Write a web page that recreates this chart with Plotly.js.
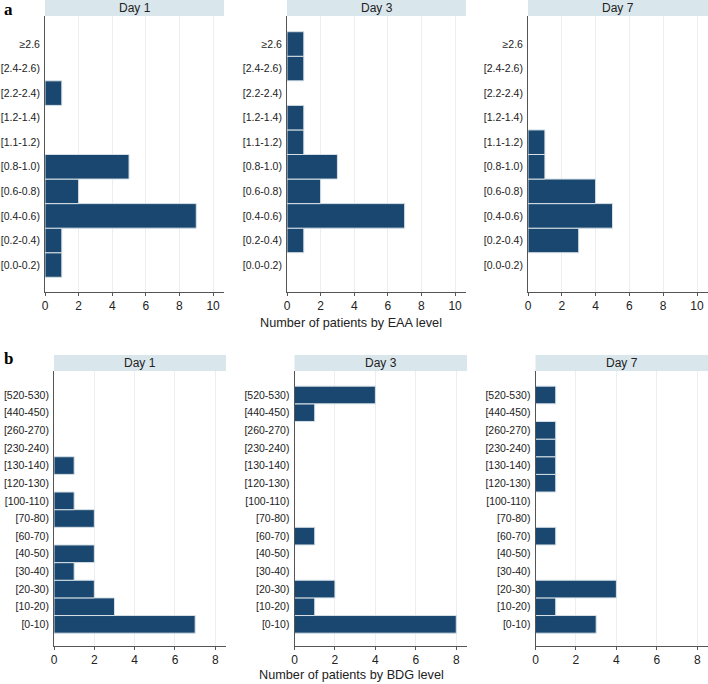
<!DOCTYPE html>
<html>
<head>
<meta charset="utf-8">
<script src="https://cdn.plot.ly/plotly-3.0.1.min.js"></script>
<style>
  body { margin: 0; background: #fff; }
  #chart { width: 708px; height: 684px; }
</style>
</head>
<body>
<div id="chart"></div>
<script>
// EAA categories, bottom to top
const eaaLevels = ['[0.0-0.2)', '[0.2-0.4)', '[0.4-0.6)', '[0.6-0.8)', '[0.8-1.0)',
  '[1.1-1.2)', '[1.2-1.4)', '[2.2-2.4)', '[2.4-2.6)', '≥2.6'];
const eaaDay1 = [1, 1, 9, 2, 5, 0, 0, 1, 0, 0];
const eaaDay3 = [0, 1, 7, 2, 3, 1, 1, 0, 1, 1];
const eaaDay7 = [0, 3, 5, 4, 1, 1, 0, 0, 0, 0];

// BDG categories, bottom to top
const bdgLevels = ['[0-10)', '[10-20)', '[20-30)', '[30-40)', '[40-50)', '[60-70)', '[70-80)',
  '[100-110)', '[120-130)', '[130-140)', '[230-240)', '[260-270)', '[440-450)', '[520-530)'];
const bdgDay1 = [7, 3, 2, 1, 2, 0, 2, 1, 0, 1, 0, 0, 0, 0];
const bdgDay3 = [8, 1, 2, 0, 0, 1, 0, 0, 0, 0, 0, 0, 1, 4];
const bdgDay7 = [3, 1, 4, 0, 0, 1, 0, 0, 1, 1, 1, 1, 0, 1];

const dayNames = ['Day 1', 'Day 3', 'Day 7'];

const W = 708, H = 684;
const navy = '#1a476f';
const stripColor = '#d9e6ec';
const font = 'Liberation Sans, Arial, sans-serif';

// pixel helpers
const px = x => x / W;
const py = y => 1 - y / H;

const panels = [
  { levels: eaaLevels, series: [eaaDay1, eaaDay3, eaaDay7], xmax: 10.65, yrange: [-1.1, 10.14],
    left: [45, 287, 528], right: [224, 466, 708], top: 16, bottom: 292, strip: 0,
    title: 'Number of patients by EAA level', titleY: 323, tag: 'a', tagY: 9 },
  { levels: bdgLevels, series: [bdgDay1, bdgDay3, bdgDay7], xmax: 8.53, yrange: [-1.21, 14.36],
    left: [54, 294.5, 535.5], right: [226, 467, 708], top: 371, bottom: 645.7, strip: 355,
    title: 'Number of patients by BDG level', titleY: 675, tag: 'b', tagY: 358 }
];

const traces = [];
const layout = {
  width: W, height: H,
  margin: { l: 0, r: 0, t: 0, b: 0 },
  paper_bgcolor: '#fff', plot_bgcolor: '#fff',
  showlegend: false,
  bargap: 0,
  font: { family: font, size: 11, color: '#222' },
  shapes: [], annotations: []
};

let n = 0;
panels.forEach(p => {
  p.series.forEach((vals, i) => {
    n++;
    const xa = 'x' + (n === 1 ? '' : n), ya = 'y' + (n === 1 ? '' : n);
    traces.push({
      type: 'bar', orientation: 'h',
      x: vals.map(v => v === 0 ? null : v),
      y: p.levels,
      xaxis: xa, yaxis: ya,
      marker: { color: navy, line: { color: '#d6e0e6', width: 1 } },
      hoverinfo: 'x+y'
    });
    layout['xaxis' + (n === 1 ? '' : n)] = {
      domain: [px(p.left[i]), px(p.right[i])],
      anchor: ya,
      range: [0, p.xmax],
      dtick: 2, tick0: 0,
      showgrid: true, gridcolor: '#e8eef1', gridwidth: 1,
      zeroline: false,
      showline: true, linecolor: '#555', linewidth: 1,
      ticks: 'outside', ticklen: 3, tickcolor: '#555',
      tickfont: { size: 12, color: '#222' }
    };
    layout['yaxis' + (n === 1 ? '' : n)] = {
      domain: [py(p.bottom), py(p.top)],
      anchor: xa,
      type: 'category',
      categoryorder: 'array', categoryarray: p.levels,
      range: p.yrange,
      showgrid: false, zeroline: false,
      showline: true, linecolor: '#555', linewidth: 1,
      ticks: '', ticklabelstandoff: 2,
      tickfont: { size: 10.5, color: '#222' }
    };
    // strip header
    layout.shapes.push({
      type: 'rect', xref: 'paper', yref: 'paper',
      x0: px(p.left[i]), x1: px(p.right[i]),
      y0: py(p.top), y1: py(p.strip),
      fillcolor: stripColor, line: { width: 0 }, layer: 'below'
    });
    layout.annotations.push({
      xref: 'paper', yref: 'paper',
      x: px((p.left[i] + p.right[i]) / 2), y: py((p.top + p.strip) / 2),
      text: dayNames[i], showarrow: false,
      xanchor: 'center', yanchor: 'middle',
      font: { size: 12, color: '#222', family: font }
    });
  });
  layout.annotations.push({
    xref: 'paper', yref: 'paper', x: px(351), y: py(p.titleY),
    text: p.title, showarrow: false, xanchor: 'center', yanchor: 'middle',
    font: { size: 12.7, color: '#222', family: font }
  });
  layout.annotations.push({
    xref: 'paper', yref: 'paper', x: px(2), y: py(p.tagY),
    text: '<b>' + p.tag + '</b>', showarrow: false, xanchor: 'left', yanchor: 'middle',
    font: { size: 17, color: '#000', family: 'Liberation Serif, Times New Roman, serif' }
  });
});

Plotly.newPlot('chart', traces, layout, { displayModeBar: false, staticPlot: true });
</script>
</body>
</html>
